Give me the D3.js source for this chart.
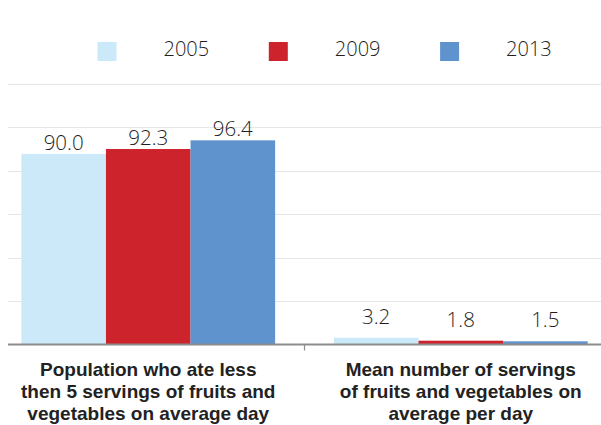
<!DOCTYPE html>
<html>
<head>
<meta charset="utf-8">
<script src="https://cdn.jsdelivr.net/npm/d3@7"></script>
<style>
  html, body { margin: 0; padding: 0; background: #fff; }
  svg { display: block; }
</style>
</head>
<body>
<svg id="chart" width="601" height="425"></svg>
<script>
// Indicator groups (x axis) and survey years (series)
const categories = [
  ["Population who ate less", "then 5 servings of fruits and", "vegetables on average day"],
  ["Mean number of servings", "of fruits and vegetables on", "average per day"]
];
const years = ["2005", "2009", "2013"];
const values2005 = [90.0, 3.2];
const values2009 = [92.3, 1.8];
const values2013 = [96.4, 1.5];
const seriesColors = ["#cce9f9", "#cc232c", "#5f93cd"];

const series = [values2005, values2009, values2013];
const W = 601, H = 425;
const svg = d3.select("#chart");

const plotTop = 84, plotBase = 344.5, plotLeft = 8;
const catIdx = categories.map((_, i) => i);

// Plot area runs a little past both edges of the window
const x0 = d3.scaleBand().domain(catIdx).range([-8, 617])
  .paddingInner(0.188).paddingOuter(0.094);
const x1 = d3.scaleBand().domain(years).range([0, x0.bandwidth()]);
const y = d3.scaleLinear().domain([0, 123]).range([plotBase, plotTop]);

// Horizontal gridlines, six evenly spaced steps
const gridVals = d3.range(1, 7).map(i => i * 123 / 6);
svg.append("g").selectAll("line").data(gridVals).join("line")
  .attr("x1", plotLeft).attr("x2", W)
  .attr("y1", d => Math.round(y(d)) + 0.5).attr("y2", d => Math.round(y(d)) + 0.5)
  .attr("stroke", "#e6e6e6").attr("stroke-width", 1.2);

// Bars
const groups = svg.append("g").selectAll("g").data(catIdx).join("g")
  .attr("transform", c => `translate(${x0(c)},0)`);

groups.selectAll("rect")
  .data(c => years.map((yr, s) => ({ yr, s, v: series[s][c], c })))
  .join("rect")
  .attr("x", d => x1(d.yr))
  .attr("width", x1.bandwidth())
  .attr("y", d => y(d.v))
  .attr("height", d => plotBase - y(d.v))
  .attr("fill", d => seriesColors[d.s]);

// Value labels
groups.selectAll("text")
  .data(c => years.map((yr, s) => ({ yr, s, v: series[s][c], c })))
  .join("text")
  .attr("x", d => x1(d.yr) + x1.bandwidth() / 2)
  .attr("y", d => y(d.v) - (d.c === 0 ? 4 : 14))
  .attr("text-anchor", "middle")
  .attr("font-family", "'Open Sans', sans-serif")
  .attr("font-weight", 300)
  .attr("font-size", 20.5)
  .attr("fill", "#1e1e1e")
  .text(d => d.v.toFixed(1));

// X axis line and the tick between groups
svg.append("line")
  .attr("x1", plotLeft).attr("x2", W)
  .attr("y1", plotBase).attr("y2", plotBase)
  .attr("stroke", "#8c8c8c").attr("stroke-width", 2);
const divider = x0(1) - x0.step() * x0.paddingInner() / 2;
svg.append("line")
  .attr("x1", divider).attr("x2", divider)
  .attr("y1", plotBase).attr("y2", plotBase + 6)
  .attr("stroke", "#8c8c8c").attr("stroke-width", 1.2);

// Category labels
const catLabels = svg.append("g").selectAll("text").data(catIdx).join("text")
  .attr("text-anchor", "middle")
  .attr("font-family", "'Liberation Sans', Arial, sans-serif")
  .attr("font-weight", "bold")
  .attr("font-size", 19)
  .attr("fill", "#222");
catLabels.selectAll("tspan").data(c => categories[c].map(t => ({ t, c }))).join("tspan")
  .attr("x", d => x0(d.c) + x0.bandwidth() / 2)
  .attr("y", (d, i) => 376 + i * 22.2)
  .text(d => d.t);

// Legend
const legend = svg.append("g").selectAll("g").data(years).join("g")
  .attr("transform", (d, i) => `translate(${97.5 + i * 171.3},42)`);
legend.append("rect")
  .attr("width", 19).attr("height", 19)
  .attr("fill", (d, i) => seriesColors[i]);
legend.append("text")
  .attr("x", 66).attr("y", 14)
  .attr("font-family", "'Open Sans', sans-serif")
  .attr("font-weight", 300)
  .attr("font-size", 20)
  .attr("fill", "#1e1e1e")
  .text(d => d);
</script>
</body>
</html>
